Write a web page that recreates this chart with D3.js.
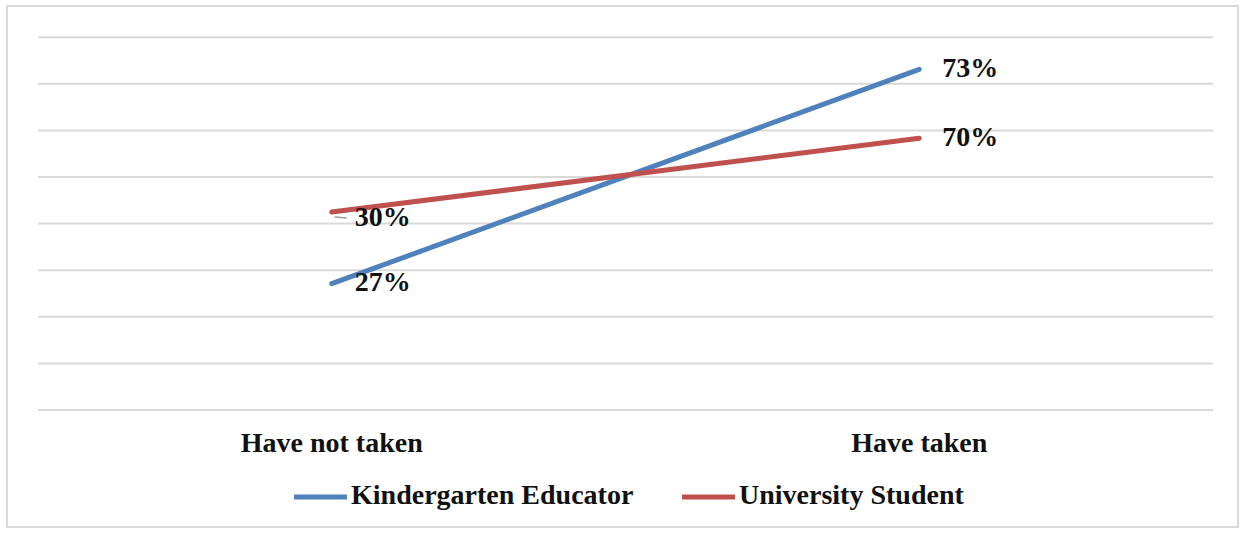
<!DOCTYPE html>
<html>
<head>
<meta charset="utf-8">
<script src="https://d3js.org/d3.v7.min.js"></script>
<style>
    body { margin: 0; background: #fff; }
    svg text { font-family: "Liberation Serif", "Times New Roman", serif; font-weight: bold; fill: #111; }
</style>
</head>
<body>
<svg id="svg" width="1240" height="534"></svg>
<script>
    var categories = ["Have not taken", "Have taken"];
    var educator = [27, 73];
    var student = [30, 70];
    var seriesNames = ["Kindergarten Educator", "University Student"];
    var gridTicks = [0, 10, 20, 30, 40, 50, 60, 70, 80];

    var svg = d3.select("svg");
    var plotLeft = 38, plotRight = 1213, plotTop = 36.7, plotBottom = 409.5;
    var blue = "#4f81bd", red = "#c0504d";

    // outer frame
    svg.append("rect")
        .attr("x", 7).attr("y", 6)
        .attr("width", 1231).attr("height", 521)
        .attr("fill", "#fff")
        .attr("stroke", "#d9d9d9")
        .attr("stroke-width", 2);

    var x = d3.scaleBand().domain(categories).range([plotLeft, plotRight]);
    var y = d3.scaleLinear().domain([0, 80]).range([plotBottom, plotTop]);
    // the red series sits on a hidden secondary axis
    var y2 = d3.scaleLinear().domain([-77, 125]).range([plotBottom, plotTop]);

    var grid = svg.append("g")
        .attr("transform", "translate(" + plotLeft + ",0)")
        .call(d3.axisLeft(y).tickValues(gridTicks).tickSize(-(plotRight - plotLeft)).tickFormat(""));
    grid.select(".domain").remove();
    grid.selectAll("line").attr("stroke", "#d9d9d9").attr("stroke-width", 2);

    var cx = function(c) { return x(c) + x.bandwidth() / 2; };

    // category labels
    svg.append("g").selectAll("text")
        .data(categories)
        .join("text")
        .attr("x", cx)
        .attr("y", 452)
        .attr("text-anchor", "middle")
        .attr("font-size", 28)
        .text(function(d) { return d; });

    var series = [
        { name: seriesNames[0], values: educator, scale: y, color: blue },
        { name: seriesNames[1], values: student, scale: y2, color: red }
    ];

    series.forEach(function(s, si) {
        var line = d3.line()
            .x(function(d, i) { return cx(categories[i]); })
            .y(function(d) { return s.scale(d); });
        svg.append("path")
            .datum(s.values)
            .attr("d", line)
            .attr("fill", "none")
            .attr("stroke", s.color)
            .attr("stroke-width", 5)
            .attr("stroke-linecap", "round");

        svg.append("g").selectAll("text")
            .data(s.values)
            .join("text")
            .attr("x", function(d, i) { return cx(categories[i]) + 23; })
            .attr("y", function(d, i) {
                var nudge = (si === 1 && i === 0) ? 8 : 1;
                return s.scale(d) + nudge;
            })
            .attr("dominant-baseline", "middle")
            .attr("font-size", 28)
            .text(function(d) { return d + "%"; });
    });

    // small leader line next to the 30% label
    var p0x = cx(categories[0]), p0y = y2(student[0]);
    svg.append("line")
        .attr("x1", p0x + 3).attr("y1", p0y + 5)
        .attr("x2", p0x + 15).attr("y2", p0y + 6)
        .attr("stroke", "#999").attr("stroke-width", 1.5);

    // legend
    var legendX = [294, 682];
    var legend = svg.append("g").selectAll("g")
        .data(series)
        .join("g")
        .attr("transform", function(d, i) { return "translate(" + legendX[i] + ",497)"; });
    legend.append("line")
        .attr("x1", 0).attr("x2", 53)
        .attr("stroke", function(d) { return d.color; })
        .attr("stroke-width", 5);
    legend.append("text")
        .attr("x", 57)
        .attr("y", 1)
        .attr("dominant-baseline", "middle")
        .attr("font-size", 28)
        .text(function(d) { return d.name; });
</script>
</body>
</html>
